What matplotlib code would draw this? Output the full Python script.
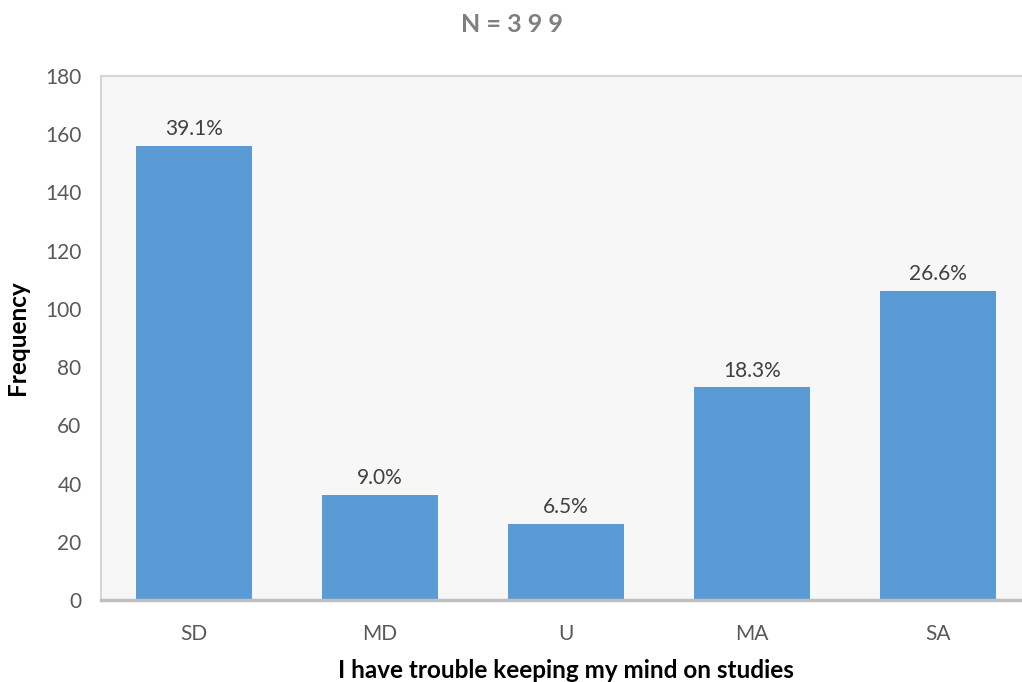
import matplotlib.pyplot as plt

plt.rcParams['font.family'] = ['Lato', 'DejaVu Sans']

categories = ["SD", "MD", "U", "MA", "SA"]
counts = [156, 36, 26, 73, 106]
percent_labels = ["39.1%", "9.0%", "6.5%", "18.3%", "26.6%"]

fig = plt.figure(figsize=(10.22, 6.82), dpi=100)
ax = fig.add_axes([101 / 1022, 1 - 600 / 682, 930 / 1022, 524 / 682])
ax.set_facecolor("#f7f7f7")

x = range(len(categories))
bars = ax.bar(x, counts, width=0.62, color="#5b9bd5", zorder=2)
for bar, lab in zip(bars, percent_labels):
    ax.annotate(lab, (bar.get_x() + bar.get_width() / 2, bar.get_height()),
                xytext=(0, 5), textcoords="offset points",
                ha="center", va="bottom", fontsize=15, color="#404040")

ax.set_xlim(-0.5, 4.5)
ax.set_ylim(0, 180)
ax.set_yticks(range(0, 181, 20))
ax.set_xticks(list(x))
ax.set_xticklabels(categories)
ax.tick_params(axis="both", length=0, labelsize=15, labelcolor="#595959")
ax.tick_params(axis="x", pad=17)
ax.tick_params(axis="y", pad=14)

for side in ["top", "left"]:
    ax.spines[side].set_color("#d6d6d6")
    ax.spines[side].set_linewidth(1.5)
ax.spines["right"].set_visible(False)
ax.spines["bottom"].set_color("#bfbfbf")
ax.spines["bottom"].set_linewidth(2.5)

ax.set_xlabel("I have trouble keeping my mind on studies", fontsize=17.5,
              fontweight="bold", color="black", labelpad=11)
ax.set_ylabel("Frequency", fontsize=17.5, fontweight="bold", color="black",
              labelpad=12)
fig.text(512 / 1022, 1 - 25 / 682, "N = 3 9 9", ha="center", va="center",
         fontsize=18, fontweight="bold", color="#7f7f7f")

fig.savefig("out.png", dpi=100)
